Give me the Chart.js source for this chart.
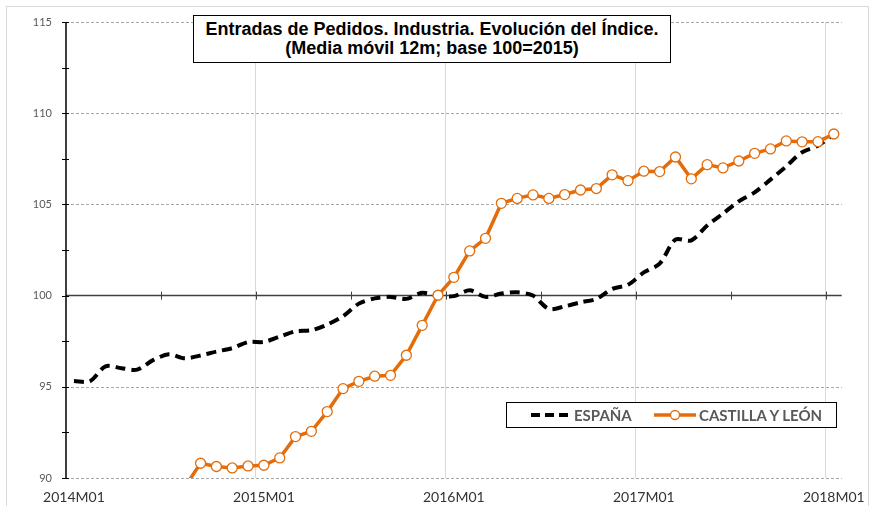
<!DOCTYPE html>
<html>
<head>
<meta charset="utf-8">
<script src="https://cdn.jsdelivr.net/npm/chart.js@4/dist/chart.umd.min.js"></script>
<style>
  body { margin: 0; background: #fff; }
  #wrap { position: relative; width: 876px; height: 506px; }
  #frame { position: absolute; left: 6px; top: 6px; width: 863px; height: 520px; border: 1px solid #d9d9d9; box-sizing: border-box; }
  #title {
    position: absolute; left: 193px; top: 15px; width: 478px; height: 48px;
    border: 1px solid #000; background: #fff; box-sizing: border-box;
    font: bold 18px "Liberation Sans", Arial, sans-serif; color: #000;
    text-align: center; line-height: 19px; padding-top: 4px;
  }
  #legend {
    position: absolute; left: 506px; top: 402px; width: 331px; height: 26px;
    border: 1px solid #000; background: #fff; box-sizing: border-box;
    font: bold 15px Lato, sans-serif; color: #595959;
  }
  #legend span { position: absolute; top: 3px; white-space: nowrap; }
  #legend svg { position: absolute; top: 0; }
</style>
</head>
<body>
<div id="wrap">
  <div id="frame"></div>
  <canvas id="chart"></canvas>
  <div id="title">Entradas de Pedidos. Industria. Evolución del Índice.<br>(Media móvil 12m; base 100=2015)</div>
  <div id="legend">
    <svg style="left:22px" width="42" height="24"><line x1="2" y1="12" x2="40" y2="12" stroke="#000" stroke-width="4" stroke-dasharray="9,5"/></svg>
    <span style="left:67px">ESPAÑA</span>
    <svg style="left:147px" width="44" height="24"><line x1="0" y1="12" x2="42" y2="12" stroke="#e46c0a" stroke-width="3.5"/><circle cx="21" cy="12" r="4.5" fill="#fff" stroke="#e46c0a" stroke-width="1.3"/></svg>
    <span style="left:192px">CASTILLA Y LEÓN</span>
  </div>
</div>
<script>
const months = [
  "2014M01","2014M02","2014M03","2014M04","2014M05","2014M06","2014M07","2014M08","2014M09","2014M10","2014M11","2014M12",
  "2015M01","2015M02","2015M03","2015M04","2015M05","2015M06","2015M07","2015M08","2015M09","2015M10","2015M11","2015M12",
  "2016M01","2016M02","2016M03","2016M04","2016M05","2016M06","2016M07","2016M08","2016M09","2016M10","2016M11","2016M12",
  "2017M01","2017M02","2017M03","2017M04","2017M05","2017M06","2017M07","2017M08","2017M09","2017M10","2017M11","2017M12",
  "2018M01"
];

const espana = [
  95.32, 95.30, 96.12, 96.02, 95.94, 96.46, 96.78, 96.56, 96.72, 96.93, 97.12, 97.45,
  97.46, 97.75, 98.04, 98.10, 98.41, 98.87, 99.56, 99.85, 99.93, 99.82, 100.15, 100.00,
  99.97, 100.29, 99.93, 100.11, 100.18, 100.00, 99.27, 99.41, 99.63, 99.82, 100.37, 100.60,
  101.27, 101.75, 103.07, 103.03, 103.84, 104.50, 105.17, 105.66, 106.36, 107.09, 107.86, 108.22,
  108.83
];

const castillaLeon = [
  null, null, null, null, null, null, null, 89.50, 90.81, 90.63, 90.55, 90.66,
  90.70, 91.10, 92.27, 92.56, 93.64, 94.90, 95.30, 95.58, 95.63, 96.73, 98.37, 100.02,
  101.00, 102.45, 103.14, 105.06, 105.33, 105.52, 105.33, 105.54, 105.79, 105.87, 106.62, 106.30,
  106.82, 106.80, 107.60, 106.40, 107.18, 107.00, 107.38, 107.80, 108.04, 108.48, 108.43, 108.44,
  108.86
];

const yTicks = [90, 95, 100, 105, 110, 115];
const yMinorTicks = [92.5, 97.5, 102.5, 107.5, 112.5];

// gridlines, axis at 100 and the small tick marks
const axisDecor = {
  id: "axisDecor",
  beforeDatasetsDraw(chart) {
    const { ctx, chartArea: a, scales } = chart;
    const x = scales.x, y = scales.y;
    ctx.save();
    ctx.lineWidth = 1;
    ctx.strokeStyle = "#a6a6a6";
    ctx.setLineDash([3, 2]);
    yTicks.forEach((v) => {
      if (v === 100) return;
      const py = Math.round(y.getPixelForValue(v)) + 0.5;
      ctx.beginPath();
      ctx.moveTo(a.left, py);
      ctx.lineTo(a.right, py);
      ctx.stroke();
    });
    ctx.setLineDash([]);

    const p100 = y.getPixelForValue(100);
    ctx.strokeStyle = "#404040";
    ctx.lineWidth = 1.5;
    ctx.beginPath();
    ctx.moveTo(a.left, p100);
    ctx.lineTo(a.right, p100);
    ctx.stroke();

    // ticks on the 100 line every 6 months
    const half = (x.getPixelForValue(1) - x.getPixelForValue(0)) / 2;
    ctx.lineWidth = 1;
    for (let i = 6; i < months.length; i += 6) {
      const px = Math.round(x.getPixelForValue(i) - half) + 0.5;
      ctx.beginPath();
      ctx.moveTo(px, p100 - 4);
      ctx.lineTo(px, p100 + 4);
      ctx.stroke();
    }

    // y axis line
    ctx.strokeStyle = "#000";
    ctx.lineWidth = 1.5;
    ctx.beginPath();
    ctx.moveTo(a.left, a.top);
    ctx.lineTo(a.left, a.bottom);
    ctx.stroke();
    ctx.lineWidth = 1;
    yTicks.concat(yMinorTicks).forEach((v) => {
      const py = Math.round(y.getPixelForValue(v)) + 0.5;
      ctx.beginPath();
      ctx.moveTo(a.left - 4, py);
      ctx.lineTo(a.left + 3, py);
      ctx.stroke();
    });
    ctx.restore();
  },
};

const context = document.getElementById("chart").getContext("2d");
const myChart = new Chart(context, {
  type: "line",
  data: {
    labels: months,
    datasets: [
      {
        label: "ESPAÑA",
        data: espana,
        borderColor: "#000",
        borderWidth: 4,
        borderDash: [10, 6],
        pointRadius: 0,
        tension: 0.3,
        fill: false,
        order: 1,
      },
      {
        label: "CASTILLA Y LEÓN",
        data: castillaLeon,
        borderColor: "#e46c0a",
        borderWidth: 3.5,
        pointRadius: 5,
        pointBackgroundColor: "#fff",
        pointBorderColor: "#e46c0a",
        pointBorderWidth: 1.3,
        tension: 0,
        fill: false,
        clip: 0,
        order: 0,
      },
    ],
  },
  options: {
    responsive: true,
    maintainAspectRatio: false,
    animation: false,
    layout: { padding: { left: 0, top: 22, right: 33, bottom: 0 } },
    plugins: {
      legend: { display: false },
      title: { display: false },
      tooltip: { enabled: false },
    },
    scales: {
      x: {
        offset: true,
        afterFit: (scale) => { scale.height = 28; },
        grid: {
          offset: true,
          drawTicks: false,
          color: (c) => (c.index % 12 === 0 && c.index > 0 ? "#d9d9d9" : "transparent"),
          lineWidth: 1,
        },
        border: { display: false },
        ticks: {
          autoSkip: false,
          maxRotation: 0,
          padding: 11,
          color: "#333",
          font: { family: "Lato", size: 14 },
          callback: (v, i) => (i % 12 === 0 ? months[i] : ""),
        },
      },
      y: {
        min: 90,
        max: 115,
        afterFit: (scale) => { scale.width = 66; },
        grid: { display: false, drawTicks: false },
        border: { display: false },
        ticks: {
          stepSize: 5,
          padding: 14,
          color: "#595959",
          font: { family: "Lato", size: 11 },
        },
      },
    },
  },
  plugins: [axisDecor],
});
</script>
</body>
</html>
